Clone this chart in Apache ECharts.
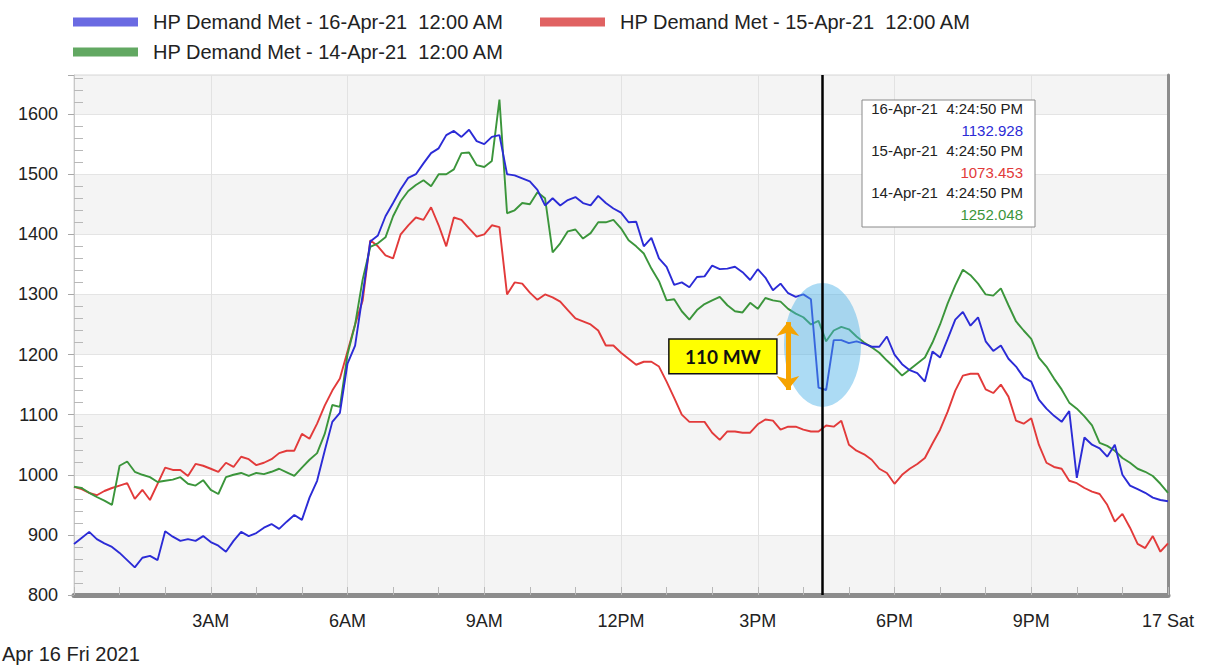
<!DOCTYPE html>
<html>
<head>
<meta charset="utf-8">
<script src="https://cdn.jsdelivr.net/npm/echarts@6/dist/echarts.min.js"></script>
<style>html,body{margin:0;padding:0;background:#fff}#c{width:1205px;height:665px}</style>
</head>
<body>
<div id="c"></div>
<script>
const FONT = '"Liberation Sans", Arial, sans-serif';

// ---- series names & colours ----
const seriesNames = [
  'HP Demand Met - 16-Apr-21  12:00 AM',
  'HP Demand Met - 15-Apr-21  12:00 AM',
  'HP Demand Met - 14-Apr-21  12:00 AM'
];
const lineColors = ['#2b2bd6', '#e23a3a', '#3b953b'];
const legendColors = ['#6a6ae2', '#e06262', '#62a862'];

// ---- values every 10 minutes, 00:00 .. 24:00 (MW) ----
const blue16 = [
  885, 895, 905, 893, 886, 880, 870, 858, 846, 862,
  865, 858, 906, 897, 890, 893, 890, 898, 888, 882,
  872, 890, 905, 898, 903, 912, 918, 910, 922, 933,
  925, 962, 990, 1040, 1088, 1103, 1185, 1215, 1300, 1388,
  1398, 1430, 1452, 1475, 1494, 1500, 1518, 1535, 1543, 1565,
  1572, 1562, 1574, 1555, 1550, 1562, 1565, 1500, 1498, 1493,
  1488, 1474, 1448, 1460, 1448, 1457, 1462, 1452, 1448, 1464,
  1452, 1443, 1436, 1420, 1421, 1380, 1394, 1360, 1346, 1316,
  1320, 1312, 1329, 1330, 1348, 1342, 1343, 1346, 1337, 1324,
  1342, 1328, 1307, 1318, 1302, 1296, 1300, 1292, 1145, 1141,
  1224, 1224, 1219, 1222, 1218, 1213, 1213, 1230, 1200, 1184,
  1174, 1169, 1155, 1205, 1195, 1226, 1258, 1271, 1248, 1262,
  1222, 1206, 1215, 1193, 1180, 1162, 1155, 1125, 1110, 1098,
  1088, 1106, 995, 1062, 1050, 1044, 1030, 1050, 1000, 982,
  976, 970, 962, 958, 956
];
const red15 = [
  980, 976, 970, 966, 973, 978, 982, 986, 960, 975,
  958, 985, 1012, 1008, 1008, 998, 1018, 1015, 1010, 1005,
  1020, 1013, 1030, 1026, 1016, 1020, 1026, 1036, 1040, 1040,
  1068, 1060, 1085, 1115, 1140, 1160, 1205, 1250, 1290, 1390,
  1380, 1365, 1360, 1400, 1415, 1428, 1424, 1445, 1415, 1380,
  1428, 1424, 1410, 1396, 1400, 1415, 1412, 1300, 1320, 1318,
  1303, 1291, 1300, 1295, 1288, 1274, 1260, 1255, 1250, 1240,
  1215, 1215, 1203, 1193, 1183, 1188, 1188, 1180, 1155, 1128,
  1100, 1088, 1088, 1088, 1070, 1058, 1072, 1072, 1070, 1070,
  1084, 1092, 1090, 1075, 1080, 1080, 1075, 1072, 1072, 1082,
  1080, 1090, 1050, 1040, 1034, 1025, 1010, 1003, 985, 1000,
  1010, 1018, 1028, 1052, 1075, 1105, 1140, 1165, 1168, 1168,
  1142, 1136, 1150, 1130, 1090, 1085, 1094, 1050, 1020, 1013,
  1010, 990, 986, 978, 972, 968, 950, 922, 935, 912,
  885, 878, 898, 872, 886
];
const green14 = [
  980, 978, 970, 963, 957, 950, 1015, 1022, 1005, 1000,
  996, 988, 990, 992, 996, 985, 982, 991, 975, 968,
  996, 1000, 1003, 998, 1003, 1001, 1005, 1010, 1004, 998,
  1012, 1025, 1036, 1068, 1116, 1113, 1200, 1250, 1325, 1379,
  1385, 1395, 1430, 1455, 1472, 1482, 1490, 1480, 1500, 1500,
  1508, 1535, 1536, 1515, 1512, 1522, 1624, 1435, 1440, 1452,
  1450, 1470, 1460, 1370, 1385, 1405, 1408, 1393, 1402, 1420,
  1420, 1424, 1410, 1390, 1380, 1368, 1343, 1322, 1290, 1292,
  1272, 1258, 1274, 1284, 1290, 1296, 1282, 1272, 1270, 1286,
  1276, 1294, 1290, 1288, 1276, 1268, 1262, 1250, 1256, 1222,
  1240, 1246, 1242, 1230, 1220, 1212, 1203, 1190, 1178, 1165,
  1175, 1185, 1195, 1220, 1250, 1285, 1315, 1341, 1332, 1318,
  1300, 1298, 1310, 1282, 1255, 1240, 1226, 1195, 1180, 1160,
  1142, 1120, 1110, 1097, 1082, 1053, 1048, 1040, 1028, 1020,
  1010, 1005, 998, 985, 970
];
const stepHours = 10 / 60;

// ---- axis tick labels ----
const xTickLabels = ['', '3AM', '6AM', '9AM', '12PM', '3PM', '6PM', '9PM', '17 Sat'];
const yTicks = { min: 800, max: 1665, interval: 100 };
const dateLabel = 'Apr 16 Fri 2021';

// ---- cursor read-out ----
const cursorTime = 16 + 24 / 60 + 50 / 3600;
const cursorDates = ['16-Apr-21  4:24:50 PM', '15-Apr-21  4:24:50 PM', '14-Apr-21  4:24:50 PM'];
const cursorValues = ['1132.928', '1073.453', '1252.048'];

// ---- annotation ----
const gapLabel = '110 MW';
const gapBox = [[13.05, 1226], [15.42, 1168]];
const gapArrow = [[15.66, 1254], [15.66, 1141]];
const dropEllipse = [16.42, 1216];

function toPairs(vals) { return vals.map((v, i) => [i * stepHours, v]); }
const allValues = [blue16, red15, green14];

const lineSeries = allValues.map((vals, i) => ({
  name: seriesNames[i],
  type: 'line',
  data: toPairs(vals),
  showSymbol: false,
  symbol: 'none',
  z: 2 + (i === 0 ? 1 : 0),
  lineStyle: { color: lineColors[i], width: 1.9 },
  itemStyle: { color: lineColors[i] },
  silent: true
}));

const legendCommon = {
  icon: 'rect', itemWidth: 65, itemHeight: 9, padding: 0, selectedMode: false,
  textStyle: { fontFamily: FONT, fontSize: 20, color: '#222', padding: [0, 0, 0, 10] }
};

const tipX = 862, tipY = 100, tipW = 173, tipH = 127;
const tipGraphics = [{
  type: 'rect', shape: { x: tipX, y: tipY, width: tipW, height: tipH },
  style: { fill: '#fff', stroke: '#8a8a8a', lineWidth: 1 }, z: 100
}];
cursorDates.forEach((d, i) => {
  tipGraphics.push({
    type: 'text', x: tipX + 161, y: tipY + 8 + i * 42, z: 101,
    style: { text: d, fill: '#222', font: '15px ' + FONT, align: 'right', verticalAlign: 'middle' }
  });
  tipGraphics.push({
    type: 'text', x: tipX + 161, y: tipY + 30 + i * 42, z: 101,
    style: { text: cursorValues[i], fill: lineColors[i], font: '15px ' + FONT, align: 'right', verticalAlign: 'middle' }
  });
});

const option = {
  animation: false,
  backgroundColor: '#fff',
  legend: [
    Object.assign({ left: 73, top: 12, data: [{ name: seriesNames[0], itemStyle: { color: legendColors[0] } }] }, legendCommon),
    Object.assign({ left: 540, top: 12, data: [{ name: seriesNames[1], itemStyle: { color: legendColors[1] } }] }, legendCommon),
    Object.assign({ left: 73, top: 42, data: [{ name: seriesNames[2], itemStyle: { color: legendColors[2] } }] }, legendCommon)
  ],
  grid: { left: 74, right: 37, top: 75, bottom: 70, show: true, borderColor: '#d6d6d6', borderWidth: 1 },
  xAxis: {
    type: 'value', min: 0, max: 24, interval: 3,
    axisLine: { show: true, lineStyle: { color: '#8c8c8c', width: 5 } },
    axisTick: { show: true, inside: true, length: 8, lineStyle: { color: '#b8b8b8' } },
    minorTick: { show: true, splitNumber: 3, length: 8, lineStyle: { color: '#b8b8b8' } },
    splitLine: { show: true, lineStyle: { color: '#e2e2e2' } },
    axisLabel: {
      formatter: v => xTickLabels[Math.round(v / 3)] || '',
      fontFamily: FONT, fontSize: 18, color: '#222', margin: 17
    }
  },
  yAxis: [
    {
      type: 'value', min: yTicks.min, max: yTicks.max, interval: yTicks.interval, position: 'left',
      axisLine: { show: true, lineStyle: { color: '#c8c8c8' } },
      axisTick: { show: true, length: 6, lineStyle: { color: '#a8a8a8' } },
      splitLine: { show: true, lineStyle: { color: '#e4e4e4' } },
      splitArea: { show: true, areaStyle: { color: ['#f4f4f4', '#ffffff'] } },
      axisLabel: {
        formatter: v => (v % 100 === 0 ? String(v) : ''),
        fontFamily: FONT, fontSize: 18, color: '#222', margin: 16
      }
    },
    {
      type: 'value', min: yTicks.min, max: yTicks.max, interval: yTicks.interval, position: 'left',
      axisLine: { show: false }, axisLabel: { show: false }, splitLine: { show: false },
      axisTick: { show: false, inside: true },
      minorTick: { show: true, splitNumber: 5, length: 9, lineStyle: { color: '#b8b8b8' } }
    },
    {
      type: 'value', min: yTicks.min, max: yTicks.max, position: 'right',
      axisLine: { show: true, lineStyle: { color: '#8c8c8c', width: 3 } },
      axisLabel: { show: false }, axisTick: { show: false }, splitLine: { show: false }
    }
  ],
  series: [
    lineSeries[1], lineSeries[2], lineSeries[0],
    {
      type: 'line', name: 'annot', data: [], z: 8, silent: true,
      markArea: {
        silent: true, z: 6,
        itemStyle: { color: '#ffff00', borderColor: '#111', borderWidth: 1.5 },
        label: { show: true, position: 'inside', formatter: gapLabel, fontFamily: 'Lato, "Open Sans", sans-serif', fontWeight: 'bold', fontSize: 19, color: '#111' },
        data: [[{ coord: gapBox[0] }, { coord: gapBox[1] }]]
      },
      markPoint: {
        silent: true, z: 4, symbol: 'circle', symbolSize: [77, 124],
        itemStyle: { color: 'rgba(70,175,230,0.45)' }, label: { show: false },
        data: [{ coord: dropEllipse }]
      }
    },
    {
      type: 'line', name: 'cursor', data: [], z: 9, silent: true,
      markLine: {
        silent: true, z: 7, symbol: ['none', 'none'], label: { show: false },
        data: [
          { xAxis: cursorTime, lineStyle: { color: '#000', width: 2.5, type: 'solid' } },
          [
            { coord: gapArrow[0], symbol: 'arrow', symbolSize: [17, 14], itemStyle: { color: '#f5a300' }, lineStyle: { color: '#f5a300', width: 5, type: 'solid' } },
            { coord: gapArrow[1], symbol: 'arrow', symbolSize: [17, 14], itemStyle: { color: '#f5a300' } }
          ]
        ]
      }
    }
  ],
  graphic: [
    { type: 'text', left: 2, top: 644, style: { text: dateLabel, fill: '#222', font: '20px ' + FONT } }
  ].concat(tipGraphics)
};

const chart = echarts.init(document.getElementById('c'), null, { renderer: 'svg' });
chart.setOption(option);
</script>
</body>
</html>
